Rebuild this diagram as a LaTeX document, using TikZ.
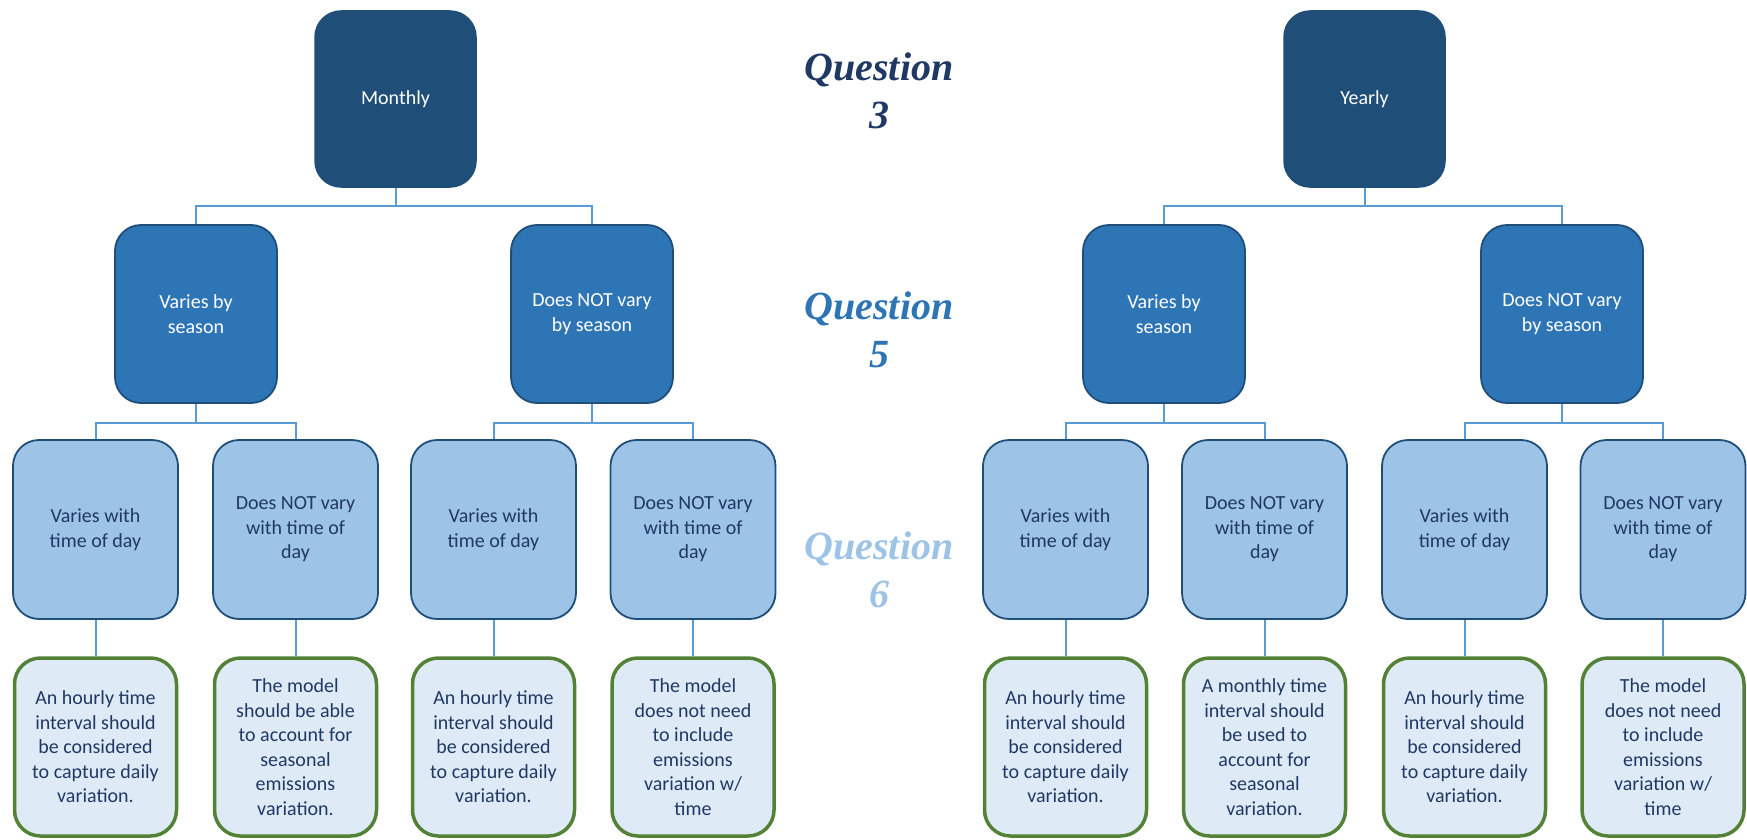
\documentclass[tikz,border=0pt]{standalone}
\usepackage{fontspec}
\setmainfont{Carlito}
\newfontfamily\qfont{Liberation Serif}
\usetikzlibrary{calc}
\definecolor{navy}{HTML}{1F4E79}
\definecolor{midblue}{HTML}{2E75B6}
\definecolor{lightblue}{HTML}{9DC3E6}
\definecolor{paleblue}{HTML}{DEEBF7}
\definecolor{leafgreen}{HTML}{538135}
\definecolor{linkblue}{HTML}{5B9BD5}
\definecolor{darktext}{HTML}{203864}
\definecolor{qone}{HTML}{1F3864}
\tikzset{
  x=1pt, y=1pt,
  box/.style={rectangle, rounded corners=26pt, align=center, inner sep=0pt,
    font=\fontsize{20}{24.5}\selectfont},
  topbox/.style={box, fill=navy, draw=navy, line width=1.5pt, text=white,
    minimum width=161pt, minimum height=176pt},
  midbox/.style={box, fill=midblue, draw=navy, line width=1.8pt, text=white,
    minimum width=162pt, minimum height=178pt},
  lowbox/.style={box, fill=lightblue, draw=navy, line width=1.8pt, text=darktext,
    minimum width=165pt, minimum height=179pt},
  leafbox/.style={box, fill=paleblue, draw=leafgreen, line width=3.5pt, text=darktext,
    minimum width=162pt, minimum height=178pt},
  conn/.style={draw=linkblue, line width=2pt},
  qlabel/.style={align=center, inner sep=0pt,
    font=\qfont\bfseries\itshape\fontsize{40}{48}\selectfont}
}
\begin{document}
\begin{tikzpicture}
\useasboundingbox (0,0) rectangle (1747,-840);
% bars
\coordinate (bar1) at (0,-206);
\coordinate (bar2) at (0,-423);
% level 1
\node[topbox] (mon) at (395.5,-99) {Monthly};
\node[topbox] (yea) at (1364.5,-99) {Yearly};
% level 2
\node[midbox] (mv) at (196,-314) {Varies by\\season};
\node[midbox] (mn) at (592,-314) {Does NOT vary\\by season};
\node[midbox] (yv) at (1164,-314) {Varies by\\season};
\node[midbox] (yn) at (1562,-314) {Does NOT vary\\by season};
% level 3
\node[lowbox] (a1) at (95.5,-529.5) {Varies with\\time of day};
\node[lowbox] (a2) at (295.5,-529.5) {Does NOT vary\\with time of\\day};
\node[lowbox] (a3) at (493.5,-529.5) {Varies with\\time of day};
\node[lowbox] (a4) at (693,-529.5) {Does NOT vary\\with time of\\day};
\node[lowbox] (a5) at (1065.5,-529.5) {Varies with\\time of day};
\node[lowbox] (a6) at (1264.5,-529.5) {Does NOT vary\\with time of\\day};
\node[lowbox] (a7) at (1464.5,-529.5) {Varies with\\time of day};
\node[lowbox] (a8) at (1663,-529.5) {Does NOT vary\\with time of\\day};
% level 4
\node[leafbox] (b1) at (95.5,-747) {An hourly time\\interval should\\be considered\\to capture daily\\variation.};
\node[leafbox] (b2) at (295.5,-747) {The model\\should be able\\to account for\\seasonal\\emissions\\variation.};
\node[leafbox] (b3) at (493.5,-747) {An hourly time\\interval should\\be considered\\to capture daily\\variation.};
\node[leafbox] (b4) at (693,-747) {The model\\does not need\\to include\\emissions\\variation w/\\time};
\node[leafbox] (b5) at (1065.5,-747) {An hourly time\\interval should\\be considered\\to capture daily\\variation.};
\node[leafbox] (b6) at (1264.5,-747) {A monthly time\\interval should\\be used to\\account for\\seasonal\\variation.};
\node[leafbox] (b7) at (1464.5,-747) {An hourly time\\interval should\\be considered\\to capture daily\\variation.};
\node[leafbox] (b8) at (1663,-747) {The model\\does not need\\to include\\emissions\\variation w/\\time};
% question labels
\node[qlabel, text=qone] (q3) at (879,-91) {Question\\3};
\node[qlabel, text=midblue] (q5) at (879,-330) {Question\\5};
\node[qlabel, text=lightblue] (q6) at (879,-570) {Question\\6};
% connectors level 1 -> 2
\draw[conn] (mon.south) -- (mon.south |- bar1) -| (mv.north);
\draw[conn] (mon.south |- bar1) -| (mn.north);
\draw[conn] (yea.south) -- (yea.south |- bar1) -| (yv.north);
\draw[conn] (yea.south |- bar1) -| (yn.north);
% connectors level 2 -> 3
\draw[conn] (mv.south) -- (mv.south |- bar2) -| (a1.north);
\draw[conn] (mv.south |- bar2) -| (a2.north);
\draw[conn] (mn.south) -- (mn.south |- bar2) -| (a3.north);
\draw[conn] (mn.south |- bar2) -| (a4.north);
\draw[conn] (yv.south) -- (yv.south |- bar2) -| (a5.north);
\draw[conn] (yv.south |- bar2) -| (a6.north);
\draw[conn] (yn.south) -- (yn.south |- bar2) -| (a7.north);
\draw[conn] (yn.south |- bar2) -| (a8.north);
% connectors level 3 -> 4
\foreach \i in {1,...,8} {\draw[conn] (a\i.south) -- (b\i.north);}
\end{tikzpicture}
\end{document}
